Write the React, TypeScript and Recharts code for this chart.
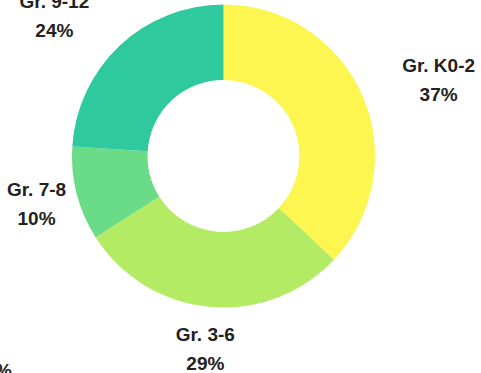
import React from 'react';
import { PieChart, Pie, Cell } from 'recharts';

const categories = ['Gr. K0-2', 'Gr. 3-6', 'Gr. 7-8', 'Gr. 9-12'];
const shares = [37, 29, 10, 24];
const colors = ['#FDF550', '#B3EB65', '#6ADB87', '#2EC99D'];
const fragmentLabel = '0%';

const data = categories.map((name, i) => ({ name, value: shares[i] }));

const LABEL_RADIUS = 193;
const LABEL_NUDGE: Record<string, number> = { 'Gr. K0-2': 38, 'Gr. 9-12': -37 };
const FONT = '"Liberation Sans", Arial, sans-serif';
const RAD = Math.PI / 180;

const renderLabel = (props: any) => {
  const { cx, cy, midAngle, percent, name } = props;
  const x = cx + LABEL_RADIUS * Math.cos(-midAngle * RAD) + (LABEL_NUDGE[name] || 0);
  const yMid = cy + LABEL_RADIUS * Math.sin(-midAngle * RAD);
  const y1 = yMid - 7.5;
  return (
    <g>
      <text x={x} y={y1} textAnchor="middle" fill="#222" fontSize={19} fontWeight="bold" fontFamily={FONT}>
        {name}
      </text>
      <text x={x} y={y1 + 29} textAnchor="middle" fill="#222" fontSize={19} fontWeight="bold" fontFamily={FONT}>
        {`${Math.round(percent * 100)}%`}
      </text>
    </g>
  );
};

export default function App() {
  return (
    <div style={{ position: 'absolute', left: 0, top: 0, width: 481, height: 373, background: '#fff' }}>
      <PieChart width={481} height={373} margin={{ top: 0, right: 0, bottom: 0, left: 0 }}>
        <Pie
          data={data}
          dataKey="value"
          nameKey="name"
          cx={223.5}
          cy={156}
          innerRadius={76}
          outerRadius={151.5}
          startAngle={90}
          endAngle={-270}
          stroke="none"
          labelLine={false}
          label={renderLabel}
          isAnimationActive={false}
        >
          {data.map((d, i) => (
            <Cell key={d.name} fill={colors[i]} />
          ))}
        </Pie>
        <text x={12} y={377} textAnchor="end" fill="#222" fontSize={19} fontWeight="bold" fontFamily={FONT}>
          {fragmentLabel}
        </text>
      </PieChart>
    </div>
  );
}
